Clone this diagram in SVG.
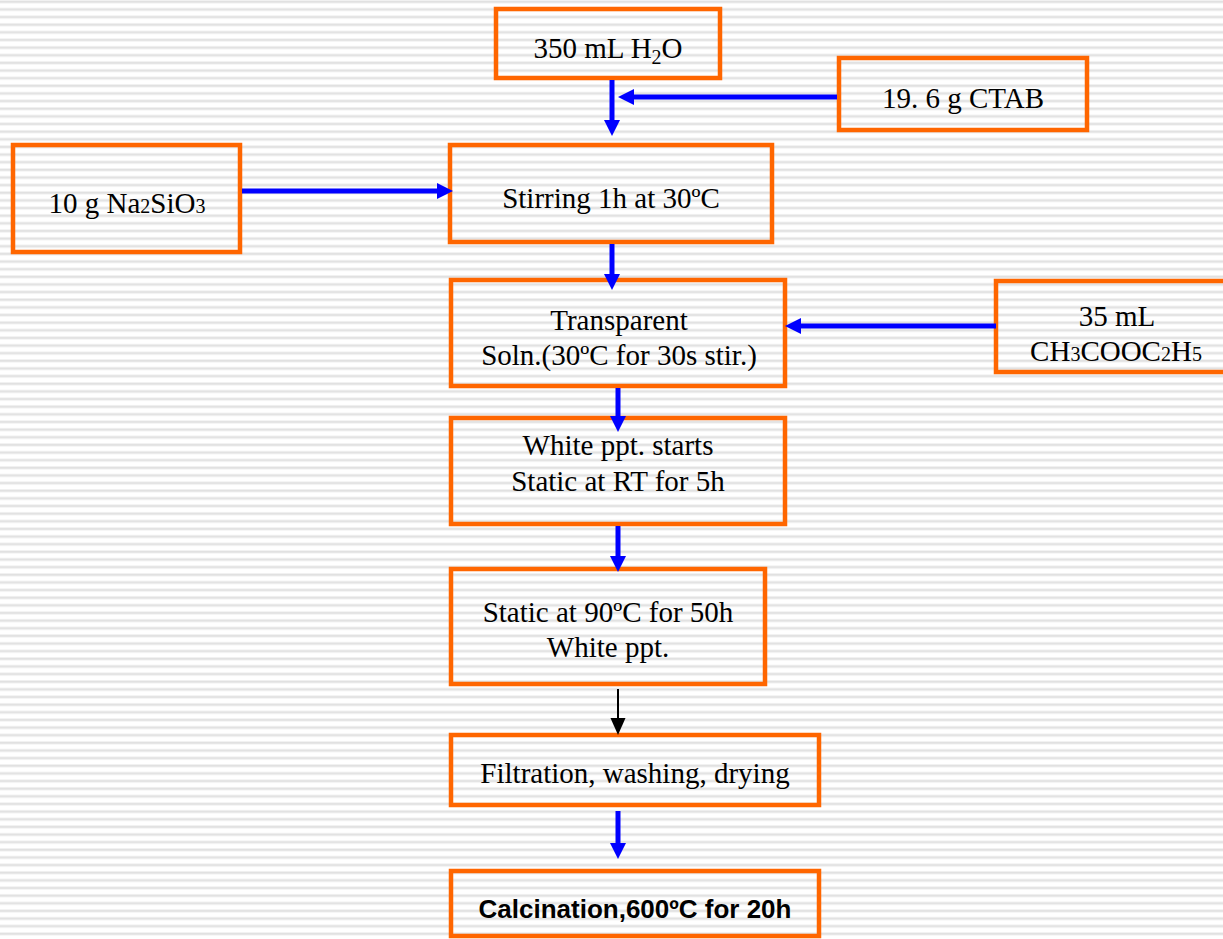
<svg xmlns="http://www.w3.org/2000/svg" width="1223" height="939" viewBox="0 0 1223 939">
<style>
.box{fill:none;stroke:#FF6600;stroke-width:4.5}
.t{font-family:"Liberation Serif","Times New Roman",serif;font-size:29px;fill:#000;text-anchor:middle}
.b{font-family:"Liberation Sans",Arial,sans-serif;font-size:26px;font-weight:bold;fill:#000;text-anchor:middle}
.sm{font-size:20px}
.blue{stroke:#0000FF;stroke-width:5;fill:none}
.blk{stroke:#000;stroke-width:2;fill:none}
</style>
<defs>
<pattern id="bg" width="20" height="7.64" patternUnits="userSpaceOnUse">
<rect width="20" height="7.64" fill="#ffffff"/>
<rect y="0.3" width="20" height="3" fill="#ececec"/>
<rect y="1.3" width="20" height="1" fill="#dcdcdc"/>
</pattern>
<marker id="ab" markerUnits="userSpaceOnUse" markerWidth="17" markerHeight="17" refX="0" refY="8" orient="auto" overflow="visible">
<path d="M0,0 L16,8 L0,16 Z" fill="#0000FF"/>
</marker>
<marker id="ak" markerUnits="userSpaceOnUse" markerWidth="18" markerHeight="16" refX="0" refY="7.5" orient="auto" overflow="visible">
<path d="M0,0 L17,7.5 L0,15 Z" fill="#000"/>
</marker>
</defs>
<rect width="1223" height="939" fill="url(#bg)"/>

<g id="n-h2o">
<rect class="box" x="496" y="9" width="224" height="69"/>
<text class="t" x="608" y="58">350 mL H<tspan class="sm" dy="6">2</tspan><tspan dy="-6">O</tspan></text>
</g>
<g id="n-ctab">
<rect class="box" x="839" y="58" width="248" height="72"/>
<text class="t" x="963" y="108">19. 6 g CTAB</text>
</g>
<g id="n-na2sio3">
<rect class="box" x="13" y="145" width="227" height="107"/>
<text class="t" x="127" y="213">10 g Na<tspan class="sm">2</tspan>SiO<tspan class="sm">3</tspan></text>
</g>
<g id="n-stir">
<rect class="box" x="450" y="145" width="322" height="97"/>
<text class="t" x="611" y="208">Stirring 1h at 30ºC</text>
</g>
<g id="n-transparent">
<rect class="box" x="451" y="280" width="334" height="106"/>
<text class="t" x="619" y="330">Transparent</text>
<text class="t" x="619" y="365">Soln.(30ºC for 30s stir.)</text>
</g>
<g id="n-ethyl">
<rect class="box" x="996" y="281" width="245" height="91"/>
<text class="t" x="1117" y="326">35 mL</text>
<text class="t" x="1116" y="361">CH<tspan class="sm">3</tspan>COOC<tspan class="sm">2</tspan>H<tspan class="sm">5</tspan></text>
</g>
<g id="n-white">
<rect class="box" x="451" y="418" width="334" height="106"/>
<text class="t" x="618" y="455">White ppt. starts</text>
<text class="t" x="618" y="491">Static at RT for 5h</text>
</g>
<g id="n-static90">
<rect class="box" x="451" y="569" width="314" height="115"/>
<text class="t" x="608" y="622">Static at 90ºC for 50h</text>
<text class="t" x="608" y="657">White ppt.</text>
</g>
<g id="n-filtration">
<rect class="box" x="451" y="735" width="368" height="70"/>
<text class="t" x="635" y="783">Filtration, washing, drying</text>
</g>
<g id="n-calcination">
<rect class="box" x="451" y="871" width="368" height="65"/>
<text class="b" x="635" y="918">Calcination,600ºC for 20h</text>
</g>

<g id="connectors">
<line class="blue" x1="612" y1="80" x2="612" y2="120" marker-end="url(#ab)"/>
<line class="blue" x1="837" y1="97" x2="634" y2="97" marker-end="url(#ab)"/>
<line class="blue" x1="242" y1="191" x2="437" y2="191" marker-end="url(#ab)"/>
<line class="blue" x1="612" y1="244" x2="612" y2="274" marker-end="url(#ab)"/>
<line class="blue" x1="996" y1="326" x2="801" y2="326" marker-end="url(#ab)"/>
<line class="blue" x1="618" y1="388" x2="618" y2="416" marker-end="url(#ab)"/>
<line class="blue" x1="618" y1="526" x2="618" y2="556" marker-end="url(#ab)"/>
<line class="blk" x1="618" y1="689" x2="618" y2="718" marker-end="url(#ak)"/>
<line class="blue" x1="618" y1="811" x2="618" y2="843" marker-end="url(#ab)"/>
</g>
</svg>
